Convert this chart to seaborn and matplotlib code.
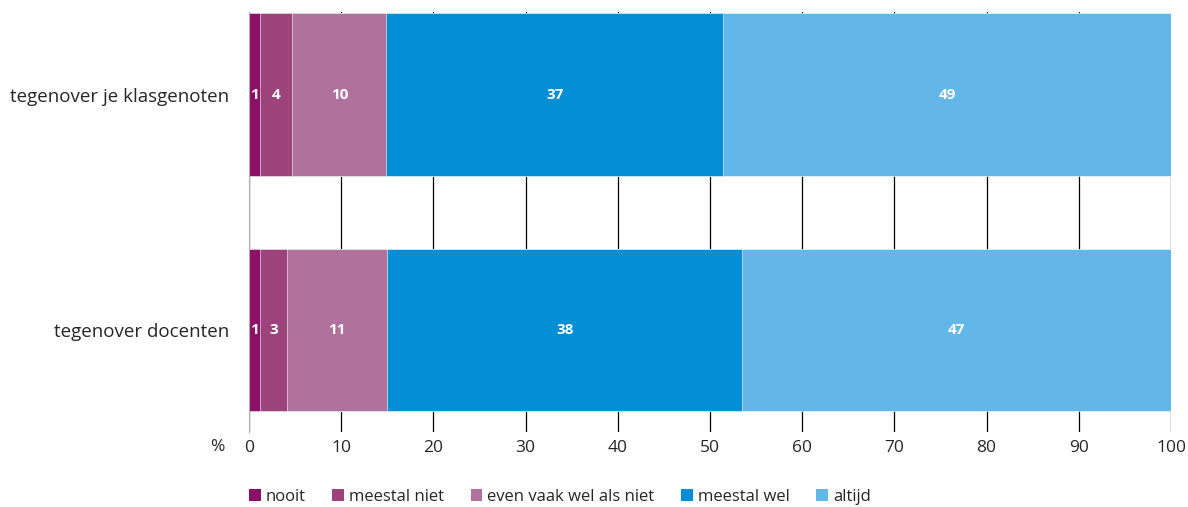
import matplotlib
matplotlib.use("Agg")
import matplotlib.pyplot as plt
import seaborn as sns
import pandas as pd
import numpy as np
from matplotlib.patches import Patch

categories = ["tegenover je klasgenoten", "tegenover docenten"]
series = ["nooit", "meestal niet", "even vaak wel als niet", "meestal wel", "altijd"]
values_klasgenoten = [1.2, 3.5, 10.2, 36.5, 48.6]
values_docenten = [1.2, 2.9, 10.9, 38.5, 46.5]
labels_klasgenoten = ["1", "4", "10", "37", "49"]
labels_docenten = ["1", "3", "11", "38", "47"]
xticks = [0, 10, 20, 30, 40, 50, 60, 70, 80, 90, 100]
colors = ["#8c1068", "#9d437c", "#b1719d", "#038ed6", "#63b7e8"]

sns.set_theme(style="white")
plt.rcParams["font.family"] = ["Open Sans", "DejaVu Sans"]

vals = np.array([values_klasgenoten, values_docenten])
labs = [labels_klasgenoten, labels_docenten]
cum = np.cumsum(vals, axis=1)

fig = plt.figure(figsize=(11.88, 5.07), dpi=100)
ax = fig.add_axes([249/1188, 1-432/507, (1171-249)/1188, 420/507])

# draw cumulative bars from largest to smallest (stacked look)
for j in range(len(series) - 1, -1, -1):
    df = pd.DataFrame({"cat": categories, "val": cum[:, j]})
    sns.barplot(data=df, x="val", y="cat", orient="h", color=colors[j],
                width=0.69, ax=ax, saturation=1, edgecolor="#ffffff",
                linewidth=0.4, zorder=2)

# value labels
for i in range(len(categories)):
    left = 0
    for j in range(len(series)):
        w = vals[i, j]
        ax.text(left + w / 2, i, labs[i][j], ha="center", va="center",
                color="white", fontsize=11, fontweight="bold", zorder=5)
        left += w

ax.set_xlim(0, 100)
ax.set_ylim(1 + 102/235.5, -82.5/235.5)
ax.set_xticks(xticks)
ax.set_xticklabels([str(t) for t in xticks], fontsize=12.5)
ax.tick_params(axis="x", length=0, pad=6)
ax.tick_params(axis="y", length=0, pad=14, labelsize=13.5)
ax.set_xlabel("")
ax.set_ylabel("")
ax.grid(axis="x", color="black", linewidth=0.9, zorder=0)
ax.grid(axis="y", visible=False)
ax.set_axisbelow(True)
for s in ["top", "right", "bottom"]:
    ax.spines[s].set_visible(False)
ax.spines["left"].set_color("#b0b0b0")
ax.spines["left"].set_linewidth(0.8)

fig.text(210/1188, 1-447/507, "%", ha="left", va="center", fontsize=12.5)

handles = [Patch(facecolor=c, edgecolor="none") for c in colors]
fig.legend(handles, series, loc="center", bbox_to_anchor=(560/1188, 1-497/507),
           ncol=5, frameon=False, fontsize=12, handlelength=0.7,
           handleheight=0.7, handletextpad=0.3, columnspacing=1.6)

fig.savefig("out.png", dpi=100)
